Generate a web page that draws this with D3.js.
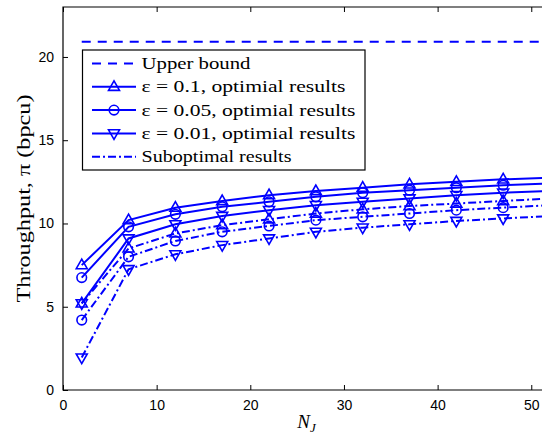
<!DOCTYPE html>
<html>
<head>
<meta charset="utf-8">
<script src="https://cdn.jsdelivr.net/npm/d3@7"></script>
<style>
  body { margin: 0; background: #fff; }
  svg { display: block; }
  .g-axis text { font-family: 'Liberation Sans', Arial, sans-serif; font-size: 14px; fill: #000; }
  .g-axis path, .g-axis line { stroke: #000; }
  .g-legend text, .g-label { font-family: 'Liberation Serif', 'DejaVu Serif', serif; fill: #000; }
</style>
</head>
<body>
<main></main>
<script>
const $main = d3.select('main');

const nj = [2, 7, 12, 17, 22, 27, 32, 37, 42, 47, 52];
const upperBound = 20.92;

const optEps01 = [7.5, 10.2, 10.95, 11.35, 11.7, 11.95, 12.15, 12.35, 12.5, 12.65, 12.75];
const optEps005 = [6.75, 9.8, 10.55, 11.0, 11.3, 11.6, 11.85, 12.0, 12.15, 12.3, 12.4];
const optEps001 = [5.2, 9.1, 9.95, 10.45, 10.8, 11.1, 11.3, 11.5, 11.7, 11.85, 11.95];
const subEps01 = [5.2, 8.5, 9.4, 9.9, 10.25, 10.6, 10.85, 11.05, 11.2, 11.35, 11.5];
const subEps005 = [4.2, 8.0, 8.95, 9.5, 9.85, 10.2, 10.4, 10.6, 10.8, 10.95, 11.1];
const subEps001 = [1.95, 7.25, 8.15, 8.7, 9.1, 9.5, 9.75, 9.95, 10.15, 10.3, 10.45];

const xTicks = [0, 10, 20, 30, 40, 50];
const yTicks = [0, 5, 10, 15, 20];

const legendLabels = [
  'Upper bound',
  'ε = 0.1, optimial results',
  'ε = 0.05, optimial results',
  'ε = 0.01, optimial results',
  'Suboptimal results'
];

const BLUE = '#0000ff';
const DASH = '9,7';
const DASHDOT = '8,3,2,3';

const width = 542;
const height = 437;
const margin = { top: 7, right: -8, bottom: 47, left: 63 };

const series = [
  { values: optEps01, marker: 'up', dash: null },
  { values: optEps005, marker: 'circle', dash: null },
  { values: optEps001, marker: 'down', dash: null },
  { values: subEps01, marker: 'up', dash: DASHDOT },
  { values: subEps005, marker: 'circle', dash: DASHDOT },
  { values: subEps001, marker: 'down', dash: DASHDOT }
];

const scaleX = d3.scaleLinear().domain([0, 52]).range([margin.left, width - margin.right]);
const scaleY = d3.scaleLinear().domain([0, 23]).range([height - margin.bottom, margin.top]);

const $svg = $main.append('svg').attr('width', width).attr('height', height);

// frame: left, bottom, top
const x0 = scaleX.range()[0];
const x1 = scaleX.range()[1];
const y0 = scaleY.range()[0];
const y1 = scaleY.range()[1];

$svg.append('path')
  .attr('d', `M${x1},${y1}H${x0}V${y0}H${x1}`)
  .attr('fill', 'none')
  .attr('stroke', '#000')
  .attr('stroke-width', 1.2);

const $axisX = $svg.append('g').attr('class', 'g-axis axis--x')
  .attr('transform', `translate(0, ${y0})`)
  .call(d3.axisBottom(scaleX).tickValues(xTicks).tickSize(-5).tickPadding(10));
const $axisY = $svg.append('g').attr('class', 'g-axis axis--y')
  .attr('transform', `translate(${x0}, 0)`)
  .call(d3.axisLeft(scaleY).tickValues(yTicks).tickSize(-5).tickPadding(9));
const $axisTop = $svg.append('g').attr('class', 'g-axis axis--top')
  .attr('transform', `translate(0, ${y1})`)
  .call(d3.axisTop(scaleX).tickValues(xTicks).tickSize(-5).tickFormat(''));

[$axisX, $axisY, $axisTop].forEach($a => $a.select('.domain').remove());

// clip to frame
$svg.append('clipPath').attr('id', 'clip')
  .append('rect').attr('x', x0).attr('y', y1).attr('width', x1 - x0).attr('height', y0 - y1);

const $vis = $svg.append('g').attr('class', 'g-vis').attr('clip-path', 'url(#clip)');

const line = d3.line()
  .x(d => scaleX(d[0]))
  .y(d => scaleY(d[1]));

$vis.append('path')
  .datum([[nj[0], upperBound], [nj[nj.length - 1], upperBound]])
  .attr('d', line)
  .attr('fill', 'none')
  .attr('stroke', BLUE)
  .attr('stroke-width', 2)
  .attr('stroke-dasharray', DASH);

function drawMarker($g, type, cx, cy) {
  if (type === 'circle') {
    $g.append('circle').attr('cx', cx).attr('cy', cy).attr('r', 4.8);
  } else {
    const s = type === 'up' ? -1 : 1;
    const h = 6;
    $g.append('path')
      .attr('d', `M${cx},${cy + s * h}L${cx - 5.5},${cy - s * h * 0.6}L${cx + 5.5},${cy - s * h * 0.6}Z`);
  }
}

series.forEach(s => {
  const pts = nj.map((x, i) => [x, s.values[i]]);
  $vis.append('path')
    .datum(pts)
    .attr('d', line)
    .attr('fill', 'none')
    .attr('stroke', BLUE)
    .attr('stroke-width', 2)
    .attr('stroke-dasharray', s.dash);

  const $m = $vis.append('g')
    .attr('fill', 'none')
    .attr('stroke', BLUE)
    .attr('stroke-width', 1.6);
  pts.forEach(p => drawMarker($m, s.marker, scaleX(p[0]), scaleY(p[1])));
});

// legend
const $legend = $svg.append('g').attr('class', 'g-legend');
$legend.append('rect')
  .attr('x', 82.5).attr('y', 50)
  .attr('width', 282.5).attr('height', 120)
  .attr('fill', '#fff')
  .attr('stroke', '#000')
  .attr('stroke-width', 1.2);

const legendDash = [DASH, null, null, null, DASHDOT];
const legendMarker = [null, 'up', 'circle', 'down', null];
const legendWidths = [109, 204, 214, 214, 150];

legendLabels.forEach((label, i) => {
  const ly = 63.5 + i * 23.3;
  $legend.append('line')
    .attr('x1', 92).attr('x2', 136)
    .attr('y1', ly).attr('y2', ly)
    .attr('stroke', BLUE)
    .attr('stroke-width', 2)
    .attr('stroke-dasharray', legendDash[i]);
  if (legendMarker[i]) {
    const $m = $legend.append('g').attr('fill', 'none').attr('stroke', BLUE).attr('stroke-width', 1.6);
    drawMarker($m, legendMarker[i], 114, ly);
  }
  $legend.append('text')
    .attr('x', 141.5).attr('y', ly + 5.5)
    .attr('font-size', 17)
    .attr('textLength', legendWidths[i])
    .attr('lengthAdjust', 'spacingAndGlyphs')
    .text(label);
});

// axis labels
$svg.append('text')
  .attr('class', 'g-label')
  .attr('transform', `translate(30, ${(y0 + y1) / 2}) rotate(-90)`)
  .attr('text-anchor', 'middle')
  .attr('font-size', 18)
  .attr('textLength', 208)
  .attr('lengthAdjust', 'spacingAndGlyphs')
  .text('Throughput, π (bpcu)');

const $xl = $svg.append('text')
  .attr('class', 'g-label')
  .attr('x', (x0 + x1) / 2)
  .attr('y', 428)
  .attr('text-anchor', 'middle')
  .attr('font-size', 19)
  .attr('font-style', 'italic');
$xl.append('tspan').text('N');
$xl.append('tspan').attr('font-size', 13).attr('dy', 4).text('J');
</script>
</body>
</html>
